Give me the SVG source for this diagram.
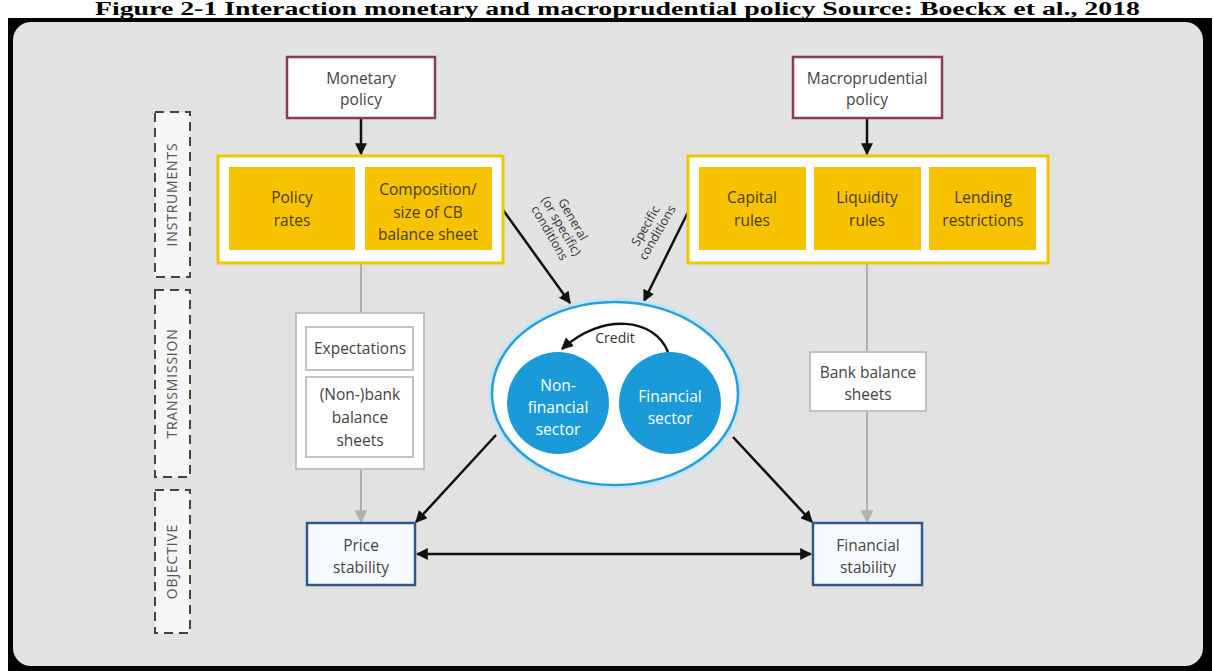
<svg xmlns="http://www.w3.org/2000/svg" width="1214" height="671" viewBox="0 0 1214 671">
<defs>
<style>
.t{font-family:"Open Sans","Noto Sans",sans-serif;font-size:15.5px;fill:#444;text-anchor:middle}
.ty{font-family:"Open Sans","Noto Sans",sans-serif;font-size:15.5px;fill:#4a3c00;text-anchor:middle}
.tw{font-family:"Open Sans","Noto Sans",sans-serif;font-size:15.5px;fill:#fff;text-anchor:middle}
.ts{font-family:"Open Sans","Noto Sans",sans-serif;font-size:12.5px;fill:#333;text-anchor:middle}
.lab{font-family:"Open Sans","Noto Sans",sans-serif;font-size:14px;fill:#555;text-anchor:middle;letter-spacing:0.8px}
.pol{fill:#fff;stroke:#8a3a5c;stroke-width:2.5}
.yo{fill:#fff;stroke:#f2c500;stroke-width:3}
.yi{fill:#f7c300}
.wb{fill:#fff;stroke:#bdbdbd;stroke-width:1.8}
.obj{fill:#f7fbff;stroke:#2d5a8a;stroke-width:2.5}
.dash{fill:#f6f6f6;stroke:#444;stroke-width:2;stroke-dasharray:9 6}
.blk{stroke:#111;stroke-width:2.5;fill:none}
.gry{stroke:#b0b0b0;stroke-width:2;fill:none}
</style>
<marker id="ab" viewBox="0 0 10 10" refX="9" refY="5" markerWidth="12" markerHeight="12" markerUnits="userSpaceOnUse" orient="auto-start-reverse">
<path d="M0,0 L10,5 L0,10 z" fill="#111"/>
</marker>
<marker id="ag" viewBox="0 0 10 10" refX="9" refY="5" markerWidth="13" markerHeight="13" markerUnits="userSpaceOnUse" orient="auto">
<path d="M0,0 L10,5 L0,10 z" fill="#b0b0b0"/>
</marker>
</defs>

<rect x="0" y="0" width="1214" height="671" fill="#fff"/>
<text x="95" y="15" textLength="1045" lengthAdjust="spacingAndGlyphs" style="font-family:'Liberation Serif',serif;font-weight:bold;font-size:18px;fill:#000">Figure 2-1 Interaction monetary and macroprudential policy Source: Boeckx et al., 2018</text>

<rect x="8" y="18" width="1204" height="653" fill="#000"/>
<rect x="13" y="22" width="1190" height="644" rx="18" fill="#e2e2e2"/>

<g id="label-instruments">
<rect class="dash" x="155" y="112" width="35" height="165"/>
<text class="lab" transform="translate(177,194.5) rotate(-90)">INSTRUMENTS</text>
</g>
<g id="label-transmission">
<rect class="dash" x="155" y="290" width="35" height="187"/>
<text class="lab" transform="translate(177,383.5) rotate(-90)">TRANSMISSION</text>
</g>
<g id="label-objective">
<rect class="dash" x="155" y="490" width="35" height="143"/>
<text class="lab" transform="translate(177,561.5) rotate(-90)">OBJECTIVE</text>
</g>

<g id="connectors">
<line class="blk" x1="361" y1="119" x2="361" y2="154" marker-end="url(#ab)"/>
<line class="blk" x1="867" y1="119" x2="867" y2="154" marker-end="url(#ab)"/>
<line class="gry" x1="361" y1="264" x2="361" y2="313"/>
<line class="gry" x1="361" y1="469" x2="361" y2="522" marker-end="url(#ag)"/>
<line class="gry" x1="867" y1="264" x2="867" y2="352"/>
<line class="gry" x1="867" y1="411" x2="867" y2="522" marker-end="url(#ag)"/>
<line class="blk" x1="503" y1="210" x2="570" y2="303" marker-end="url(#ab)"/>
<line class="blk" x1="688" y1="212" x2="644" y2="301" marker-end="url(#ab)"/>
<line class="blk" x1="496" y1="435" x2="416" y2="522" marker-end="url(#ab)"/>
<line class="blk" x1="733" y1="437" x2="812" y2="522" marker-end="url(#ab)"/>
<line class="blk" x1="417" y1="554" x2="811" y2="554" marker-start="url(#ab)" marker-end="url(#ab)"/>
<text class="ts" transform="translate(558,228) rotate(60)"><tspan x="0" dy="-13">General</tspan><tspan x="0" dy="13.5">(or specific)</tspan><tspan x="0" dy="13.5">conditions</tspan></text>
<text class="ts" transform="translate(651,229) rotate(-60)"><tspan x="0" dy="-2">Specific</tspan><tspan x="0" dy="13.5">conditions</tspan></text>
</g>

<g id="monetary-policy">
<rect class="pol" x="287" y="57" width="148" height="61"/>
<text class="t" x="361" y="84">Monetary</text>
<text class="t" x="361" y="105">policy</text>
</g>
<g id="macroprudential-policy">
<rect class="pol" x="793" y="57" width="149" height="61"/>
<text class="t" x="867" y="84">Macroprudential</text>
<text class="t" x="867" y="105">policy</text>
</g>

<g id="monetary-instruments">
<rect class="yo" x="218" y="156" width="285" height="107"/>
<rect class="yi" x="229" y="167" width="126" height="83"/>
<rect class="yi" x="365" y="167" width="127" height="83"/>
<text class="ty" x="292" y="203">Policy</text>
<text class="ty" x="292" y="226">rates</text>
<text class="ty" x="428" y="195">Composition/</text>
<text class="ty" x="428" y="218">size of CB</text>
<text class="ty" x="428" y="240">balance sheet</text>
</g>

<g id="macro-instruments">
<rect class="yo" x="688" y="156" width="360" height="107"/>
<rect class="yi" x="699" y="167" width="107" height="83"/>
<rect class="yi" x="814" y="167" width="107" height="83"/>
<rect class="yi" x="929" y="167" width="107" height="83"/>
<text class="ty" x="752" y="203">Capital</text>
<text class="ty" x="752" y="226">rules</text>
<text class="ty" x="867" y="203">Liquidity</text>
<text class="ty" x="867" y="226">rules</text>
<text class="ty" x="983" y="203">Lending</text>
<text class="ty" x="983" y="226">restrictions</text>
</g>

<g id="monetary-transmission">
<rect class="wb" x="296" y="313" width="128" height="156"/>
<rect class="wb" x="306" y="327" width="107" height="43"/>
<rect class="wb" x="306" y="377" width="107" height="80"/>
<text class="t" x="360" y="354">Expectations</text>
<text class="t" x="360" y="400">(Non-)bank</text>
<text class="t" x="360" y="423">balance</text>
<text class="t" x="360" y="446">sheets</text>
</g>

<g id="bank-balance-sheets">
<rect class="wb" x="810" y="352" width="116" height="59"/>
<text class="t" x="868" y="378">Bank balance</text>
<text class="t" x="868" y="400">sheets</text>
</g>

<g id="sectors">
<ellipse cx="615" cy="393.5" rx="125" ry="93.5" fill="none" stroke="#bfe6f7" stroke-width="4"/>
<ellipse cx="615" cy="393.5" rx="123" ry="91.5" fill="#fff" stroke="#2a9fd6" stroke-width="2.5"/>
<circle cx="558" cy="403" r="51" fill="#1a9ad8"/>
<circle cx="670" cy="403" r="51" fill="#1a9ad8"/>
<text class="tw" x="558" y="391">Non-</text>
<text class="tw" x="558" y="413">financial</text>
<text class="tw" x="558" y="435">sector</text>
<text class="tw" x="670" y="402">Financial</text>
<text class="tw" x="670" y="424">sector</text>
<path class="blk" d="M668,352 C655,318 602,312 562,349" stroke-width="2.2" marker-end="url(#ab)"/>
<text x="615" y="343" style="font-family:'Open Sans','Noto Sans',sans-serif;font-size:14px;fill:#333;text-anchor:middle">Credit</text>
</g>

<g id="price-stability">
<rect class="obj" x="307" y="523" width="108" height="62"/>
<text class="t" x="361" y="551">Price</text>
<text class="t" x="361" y="573">stability</text>
</g>
<g id="financial-stability">
<rect class="obj" x="813" y="523" width="109" height="62"/>
<text class="t" x="868" y="551">Financial</text>
<text class="t" x="868" y="573">stability</text>
</g>
</svg>
